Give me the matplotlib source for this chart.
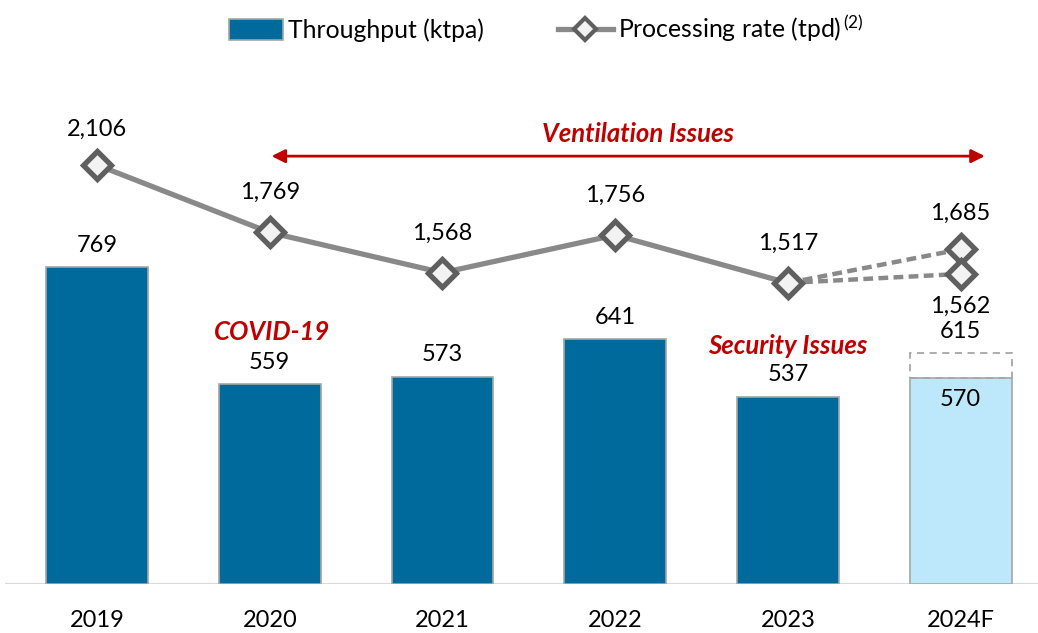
import matplotlib.pyplot as plt
import matplotlib.lines as mlines
import matplotlib.patches as mpatches

# ================= DATA =================
years = ["2019", "2020", "2021", "2022", "2023", "2024F"]
throughput = [769, 559, 573, 641, 537, 570]
throughput_high = 615  # 2024F upper case
rate = [2106, 1769, 1568, 1756, 1517]
rate_2024 = [1685, 1562]  # forecast high / low

# ================= STYLE =================
plt.rcParams.update({'font.family': 'Lato', 'font.size': 17,
                     'mathtext.fontset': 'custom', 'mathtext.rm': 'Lato',
                     'mathtext.it': 'Lato:italic'})
bar_color = '#006A9C'
bar_fc_color = '#BDE8FB'
edge_gray = '#A6A6A6'
line_gray = '#898989'
marker_edge = '#5F5F5F'
red = '#C00000'

fig = plt.figure(figsize=(10.38, 6.33), dpi=100)
ax = fig.add_axes([5 / 1038, 49 / 633, 1033 / 1038, 524 / 633])
ax2 = ax.twinx()

x = list(range(len(years)))

# bars
ax.bar(x[:-1], [v - 200 for v in throughput[:-1]], bottom=200, width=0.59,
       color=bar_color, edgecolor=edge_gray, linewidth=1.2, zorder=2)
ax.bar(x[-1], throughput[-1] - 200, bottom=200, width=0.59,
       color=bar_fc_color, edgecolor=edge_gray, linewidth=1.2, zorder=2)
ax.bar(x[-1], throughput_high - throughput[-1], bottom=throughput[-1], width=0.59,
       facecolor='none', edgecolor='#A6A6A6', linewidth=1.3, linestyle=(0, (4, 3)), zorder=2)

ax.set_xlim(-0.533, 5.448)
ax.set_ylim(200, 1142)
ax.axhline(200, color='#D9D9D9', lw=1.5, zorder=1)

# bar labels
for i, v in enumerate(throughput[:-1]):
    ax.annotate(f"{v:,}", (i, v), xytext=(0, 8), textcoords='offset points',
                ha='center', va='bottom')
ax.annotate(f"{throughput[-1]}", (x[-1], throughput[-1]), xytext=(0, -8),
            textcoords='offset points', ha='center', va='top')
ax.annotate(f"{throughput_high}", (x[-1], throughput_high), xytext=(0, 8),
            textcoords='offset points', ha='center', va='bottom')

# red notes
ax.annotate("COVID-19", (1, throughput[1]), xytext=(2, 29), textcoords='offset points',
            ha='center', va='bottom', color=red, fontweight='bold', fontstyle='italic',
            fontsize=18.5)
ax.annotate("Security Issues", (4, throughput[4]), xytext=(0, 28), textcoords='offset points',
            ha='center', va='bottom', color=red, fontweight='bold', fontstyle='italic',
            fontsize=18.5)

# processing rate line
ax2.set_ylim(14, 2630)
ax2.plot(x[:5], rate, color=line_gray, lw=3.8, zorder=3)
for v in rate_2024:
    ax2.plot([x[4], x[5]], [rate[4], v], color=line_gray, lw=3.2, ls=(0, (2.2, 1.2)), zorder=3)
ax2.plot(x[:5] + [x[5], x[5]], rate + rate_2024, ls='none', marker='D', ms=14.5,
         mfc='#F2F2F2', mec=marker_edge, mew=3.8, zorder=4)

rate_offsets = [18, 21, 21, 21, 21]
for i, v in enumerate(rate):
    ax2.annotate(f"{v:,}", (i, v), xytext=(0, rate_offsets[i]), textcoords='offset points',
                 ha='center', va='bottom')
ax2.annotate(f"{rate_2024[0]:,}", (x[5], rate_2024[0]), xytext=(0, 18),
             textcoords='offset points', ha='center', va='bottom')
ax2.annotate(f"{rate_2024[1]:,}", (x[5], rate_2024[1]), xytext=(0, -16),
             textcoords='offset points', ha='center', va='top')

# ventilation arrow
ax2.annotate("", xy=(5.14, 2150), xytext=(1.01, 2150),
             arrowprops=dict(arrowstyle='<|-|>', color=red, lw=2, mutation_scale=20,
                             shrinkA=0, shrinkB=0))
ax2.text(3.13, 2262, "Ventilation Issues", ha='center', va='center', color=red,
         fontweight='bold', fontstyle='italic', fontsize=18.5)

# axes cosmetics
for a in (ax, ax2):
    for s in a.spines.values():
        s.set_visible(False)
ax.set_yticks([])
ax2.set_yticks([])
ax.set_xticks(x)
ax.set_xticklabels(years)
ax.tick_params(axis='x', length=0, pad=19)

# legend
h_bar = mpatches.Patch(facecolor=bar_color, edgecolor=edge_gray, linewidth=1.2)
h_line = mlines.Line2D([], [], color=line_gray, lw=3.8, marker='D', ms=11,
                       mfc='#F2F2F2', mec=marker_edge, mew=3)
fig.legend([h_bar, h_line], ["Throughput (ktpa)", "Processing rate (tpd)$^{\\,(2)}$"],
           loc='center', bbox_to_anchor=(0.526, 0.955), ncol=2, frameon=False,
           fontsize=17.8, handlelength=2.2, handleheight=0.9, handletextpad=0.2,
           columnspacing=3.0)

fig.savefig("out.png", dpi=100)
